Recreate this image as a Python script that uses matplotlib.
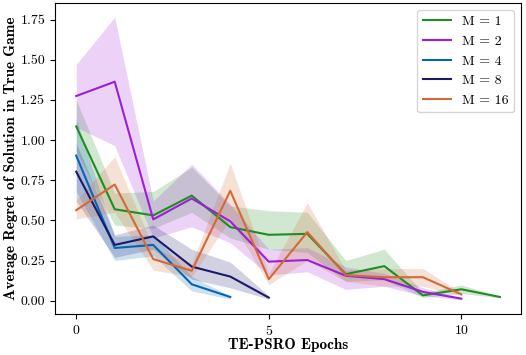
import matplotlib
matplotlib.use('Agg')
import matplotlib.pyplot as plt
import numpy as np

plt.rcParams['font.family'] = 'cmr10'
plt.rcParams['mathtext.fontset'] = 'cm'
plt.rcParams['axes.formatter.use_mathtext'] = True

# mean regret per epoch, and the shaded band around it
m_values = [1, 2, 4, 8, 16]
colors = ['#228b22', '#9b1fd6', '#0565b4', '#1b1a6a', '#d2693a']

mean_m1 = [1.085, 0.569, 0.531, 0.654, 0.458, 0.410, 0.416, 0.165, 0.215, 0.033, 0.071, 0.023]
low_m1 = [0.93, 0.47, 0.45, 0.55, 0.39, 0.32, 0.30, 0.12, 0.13, 0.02, 0.045, 0.018]
high_m1 = [1.25, 0.67, 0.68, 0.83, 0.59, 0.56, 0.55, 0.25, 0.32, 0.05, 0.098, 0.028]

mean_m2 = [1.274, 1.363, 0.506, 0.636, 0.494, 0.243, 0.253, 0.155, 0.134, 0.055, 0.0125]
low_m2 = [1.08, 0.965, 0.39, 0.46, 0.36, 0.16, 0.18, 0.07, 0.09, 0.03, 0.005]
high_m2 = [1.47, 1.765, 0.62, 0.85, 0.60, 0.32, 0.33, 0.21, 0.17, 0.08, 0.02]

mean_m4 = [0.903, 0.328, 0.347, 0.102, 0.023]
low_m4 = [0.68, 0.25, 0.28, 0.06, 0.01]
high_m4 = [1.13, 0.40, 0.41, 0.15, 0.03]

mean_m8 = [0.803, 0.347, 0.400, 0.212, 0.150, 0.019]
low_m8 = [0.62, 0.27, 0.32, 0.134, 0.08, 0.01]
high_m8 = [0.98, 0.41, 0.47, 0.32, 0.24, 0.03]

mean_m16 = [0.563, 0.723, 0.259, 0.186, 0.684, 0.134, 0.427, 0.159, 0.146, 0.146, 0.039]
low_m16 = [0.51, 0.55, 0.19, 0.15, 0.51, 0.10, 0.25, 0.12, 0.09, 0.09, 0.03]
high_m16 = [0.625, 0.897, 0.33, 0.23, 0.856, 0.17, 0.61, 0.19, 0.20, 0.20, 0.05]

means = [mean_m1, mean_m2, mean_m4, mean_m8, mean_m16]
lows = [low_m1, low_m2, low_m4, low_m8, low_m16]
highs = [high_m1, high_m2, high_m4, high_m8, high_m16]

fig = plt.figure(figsize=(5.26, 3.55), dpi=100)
ax = fig.add_axes([0.1046, 0.1155, 0.886, 0.876])

for m, c, mu, lo, hi in zip(m_values, colors, means, lows, highs):
    x = np.arange(len(mu))
    ax.plot(x, mu, color=c, lw=1.5, label='M = %d' % m)
    ax.fill_between(x, lo, hi, color=c, alpha=0.2, lw=0)

ax.set_xticks([0, 5, 10])
ax.set_yticks(np.arange(0, 1.76, 0.25))
ax.set_yticklabels(['%.2f' % v for v in np.arange(0, 1.76, 0.25)])
ax.tick_params(labelsize=10)
ax.set_xlabel('TE-PSRO Epochs', family='cmb10', fontsize=11, labelpad=0.5)
ax.set_ylabel('Average Regret of Solution in True Game', family='cmb10', fontsize=11, labelpad=2)
ax.legend(loc='upper right', fontsize=10)

fig.savefig('out.png', dpi=100)
